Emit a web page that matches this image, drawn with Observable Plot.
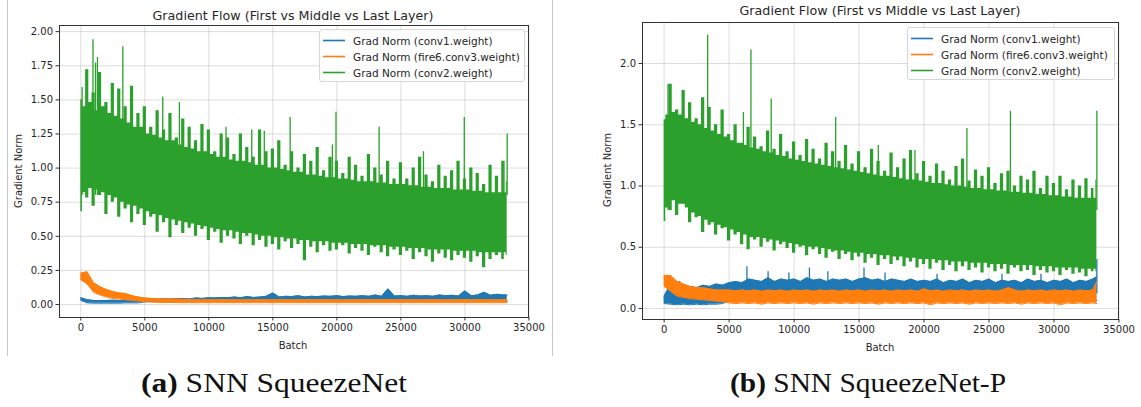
<!DOCTYPE html>
<html>
<head>
<meta charset="utf-8">
<script src="https://cdn.jsdelivr.net/npm/d3@7"></script>
<script src="https://cdn.jsdelivr.net/npm/@observablehq/plot@0.6"></script>
<style>
  html, body { margin: 0; padding: 0; background: #fff; }
  #root { position: relative; width: 1141px; height: 407px; overflow: hidden; background: #fff; }
  .panel { position: absolute; top: 0; }
  #overlay { position: absolute; left: 0; top: 0; pointer-events: none; }
</style>
</head>
<body>
<div id="root">
  <div id="panelA" class="panel" style="left:0px"></div>
  <div id="panelB" class="panel" style="left:580px"></div>
  <svg id="overlay" width="1141" height="407"></svg>
</div>
<script>
// ---------------- data ----------------
const seriesNames = ["Grad Norm (conv1.weight)", "Grad Norm (fire6.conv3.weight)", "Grad Norm (conv2.weight)"];
const seriesColors = ["#1f77b4", "#ff7f0e", "#2ca02c"];
const chartTitle = "Gradient Flow (First vs Middle vs Last Layer)";
const xLabel = "Batch";
const yLabel = "Gradient Norm";
const captions = [["(a)", " SNN SqueezeNet"], ["(b)", " SNN SqueezeNet-P"]];

const xTicks = [0, 5000, 10000, 15000, 20000, 25000, 30000, 35000];
const xTickLabels = ["0", "5000", "10000", "15000", "20000", "25000", "30000", "35000"];
const yTicksA = [0, 0.25, 0.5, 0.75, 1.0, 1.25, 1.5, 1.75, 2.0];
const yTickLabelsA = ["0.00", "0.25", "0.50", "0.75", "1.00", "1.25", "1.50", "1.75", "2.00"];
const yTicksB = [0, 0.5, 1.0, 1.5, 2.0];
const yTickLabelsB = ["0.0", "0.5", "1.0", "1.5", "2.0"];

// sampled batches: envelope extremes read every 500 batches
const batch = [0,500,1000,1500,2000,2500,3000,3500,4000,4500,
  5000,5500,6000,6500,7000,7500,8000,8500,9000,9500,
  10000,10500,11000,11500,12000,12500,13000,13500,14000,14500,
  15000,15500,16000,16500,17000,17500,18000,18500,19000,19500,
  20000,20500,21000,21500,22000,22500,23000,23500,24000,24500,
  25000,25500,26000,26500,27000,27500,28000,28500,29000,29500,
  30000,30500,31000,31500,32000,32500,33000,33300];
// in-between batches: dense core of the noise band
const coreBatch = [250,750,1250,1750,2250,2750,3250,3750,4250,4750,
  5250,5750,6250,6750,7250,7750,8250,8750,9250,9750,
  10250,10750,11250,11750,12250,12750,13250,13750,14250,14750,
  15250,15750,16250,16750,17250,17750,18250,18750,19250,19750,
  20250,20750,21250,21750,22250,22750,23250,23750,24250,24750,
  25250,25750,26250,26750,27250,27750,28250,28750,29250,29750,
  30250,30750,31250,31750,32250,32750,33150];

// ---- (a) SNN SqueezeNet ----
const a_conv2_hi = [1.50,1.72,1.55,1.70,1.48,1.62,1.58,1.45,1.60,1.40,
  1.45,1.30,1.42,1.28,1.40,1.22,1.36,1.30,1.20,1.32,
  1.28,1.12,1.25,1.22,1.10,1.25,1.15,1.08,1.28,1.12,
  1.14,1.20,1.02,1.12,1.00,1.10,1.05,1.15,0.98,1.08,
  1.05,0.96,1.08,1.02,0.94,1.10,1.00,0.95,1.05,0.92,
  1.04,0.92,1.00,1.08,0.95,0.90,1.02,0.94,0.98,1.05,
  0.92,1.00,0.96,0.88,1.02,0.94,1.05,0.90];
const a_conv2_lo = [0.68,0.78,0.72,0.80,0.66,0.75,0.64,0.70,0.60,0.66,
  0.58,0.64,0.53,0.60,0.49,0.58,0.52,0.56,0.50,0.55,
  0.47,0.53,0.45,0.50,0.48,0.44,0.50,0.43,0.47,0.42,
  0.44,0.40,0.46,0.41,0.44,0.32,0.42,0.38,0.43,0.39,
  0.40,0.43,0.37,0.41,0.39,0.36,0.42,0.38,0.35,0.40,
  0.36,0.39,0.33,0.38,0.35,0.31,0.37,0.34,0.32,0.36,
  0.34,0.31,0.35,0.27,0.33,0.36,0.33,0.36];
const a_conv2_coreTop = [1.45,1.48,1.42,1.45,1.40,1.38,1.36,1.33,1.30,1.30,
  1.25,1.24,1.22,1.20,1.20,1.17,1.15,1.14,1.12,1.12,
  1.10,1.08,1.08,1.06,1.05,1.05,1.04,1.02,1.02,1.00,
  1.00,0.99,0.98,0.97,0.97,0.95,0.95,0.94,0.93,0.93,
  0.92,0.92,0.91,0.90,0.90,0.90,0.89,0.89,0.88,0.88,
  0.88,0.87,0.87,0.86,0.86,0.85,0.85,0.85,0.84,0.84,
  0.84,0.83,0.83,0.82,0.82,0.82,0.82];
const a_conv2_coreBot = [0.82,0.85,0.84,0.82,0.80,0.78,0.75,0.73,0.72,0.70,
  0.68,0.66,0.65,0.63,0.62,0.61,0.60,0.59,0.58,0.57,
  0.56,0.55,0.54,0.54,0.53,0.52,0.52,0.51,0.50,0.50,
  0.49,0.49,0.48,0.48,0.47,0.47,0.46,0.46,0.46,0.45,
  0.45,0.45,0.44,0.44,0.44,0.43,0.43,0.43,0.42,0.42,
  0.42,0.41,0.41,0.41,0.40,0.40,0.40,0.40,0.39,0.39,
  0.39,0.39,0.38,0.38,0.38,0.38,0.38];
const a_conv2_spikeX = [100,950,1150,1300,3280,6400,7700,11340,13350,14330,16350,19650,19930,23300,26760,29950,33050,33300];
const a_conv2_spikeY = [1.59,1.94,1.77,1.81,1.89,1.52,1.48,1.30,1.28,1.27,1.37,1.17,1.41,1.30,1.12,1.37,1.05,1.25];

const a_fire6_hi = [0.23,0.24,0.16,0.13,0.11,0.095,0.085,0.08,0.065,0.055,
  0.048,0.045,0.042,0.040,0.040,0.038,0.038,0.036,0.037,0.036,
  0.036,0.035,0.037,0.035,0.036,0.034,0.036,0.035,0.037,0.035,
  0.036,0.035,0.036,0.034,0.036,0.035,0.037,0.035,0.036,0.035,
  0.036,0.034,0.036,0.035,0.037,0.035,0.036,0.035,0.036,0.034,
  0.036,0.035,0.037,0.035,0.036,0.035,0.036,0.034,0.036,0.035,
  0.037,0.035,0.036,0.035,0.036,0.034,0.036,0.035];
const a_fire6_lo = [0.18,0.15,0.09,0.07,0.055,0.045,0.04,0.035,0.03,0.025,
  0.02,0.018,0.016,0.015,0.015,0.014,0.013,0.014,0.013,0.014,
  0.013,0.014,0.013,0.014,0.013,0.014,0.013,0.014,0.013,0.014,
  0.013,0.014,0.013,0.014,0.013,0.014,0.013,0.014,0.013,0.014,
  0.013,0.014,0.013,0.014,0.013,0.014,0.013,0.014,0.013,0.014,
  0.013,0.014,0.013,0.014,0.013,0.014,0.013,0.014,0.013,0.014,
  0.013,0.014,0.013,0.014,0.013,0.013,0.014,0.013];
const a_conv1_hi = [0.05,0.035,0.03,0.03,0.03,0.032,0.03,0.032,0.033,0.035,
  0.035,0.04,0.038,0.045,0.04,0.042,0.045,0.04,0.048,0.045,
  0.05,0.048,0.052,0.05,0.055,0.05,0.058,0.052,0.055,0.06,
  0.085,0.055,0.06,0.058,0.065,0.055,0.06,0.058,0.062,0.06,
  0.065,0.058,0.062,0.06,0.065,0.06,0.07,0.06,0.115,0.062,
  0.065,0.06,0.068,0.062,0.065,0.06,0.07,0.065,0.068,0.062,
  0.1,0.065,0.07,0.09,0.068,0.075,0.07,0.07];
const a_conv1_lo = [0.03,0.012,0.01,0.01,0.01,0.01,0.01,0.012,0.012,0.012,
  0.02,0.022,0.02,0.022,0.02,0.022,0.02,0.022,0.02,0.022,
  0.02,0.022,0.02,0.022,0.02,0.022,0.02,0.022,0.02,0.022,
  0.02,0.022,0.02,0.022,0.02,0.022,0.02,0.022,0.02,0.022,
  0.02,0.022,0.02,0.022,0.02,0.022,0.02,0.022,0.02,0.022,
  0.02,0.022,0.02,0.022,0.02,0.022,0.02,0.022,0.02,0.022,
  0.02,0.022,0.02,0.022,0.02,0.022,0.02,0.022];

// ---- (b) SNN SqueezeNet-P ----
const b_conv2_hi = [1.54,1.83,1.62,1.78,1.68,1.55,1.72,1.64,1.50,1.62,
  1.42,1.50,1.35,1.48,1.40,1.32,1.45,1.30,1.42,1.28,
  1.36,1.25,1.38,1.30,1.22,1.35,1.28,1.20,1.33,1.18,
  1.28,1.15,1.30,1.20,1.12,1.27,1.15,1.22,1.29,1.10,
  1.20,1.08,1.18,1.12,1.05,1.16,1.22,1.04,1.13,1.08,
  1.15,1.02,1.10,1.12,1.00,1.08,1.05,1.12,0.98,1.08,
  1.02,1.08,0.97,1.05,1.00,1.06,0.98,1.05];
const b_conv2_lo = [0.71,0.80,0.76,0.85,0.70,0.74,0.62,0.68,0.60,0.65,
  0.55,0.60,0.52,0.48,0.56,0.50,0.54,0.47,0.52,0.49,
  0.45,0.50,0.43,0.48,0.44,0.41,0.46,0.40,0.44,0.39,
  0.42,0.37,0.41,0.35,0.40,0.36,0.39,0.34,0.38,0.33,
  0.36,0.32,0.37,0.31,0.35,0.30,0.34,0.31,0.33,0.29,
  0.33,0.30,0.32,0.28,0.33,0.30,0.31,0.27,0.31,0.29,
  0.30,0.27,0.31,0.28,0.29,0.26,0.30,0.30];
const b_conv2_coreTop = [1.58,1.60,1.58,1.55,1.52,1.50,1.47,1.45,1.42,1.40,
  1.37,1.35,1.33,1.31,1.30,1.28,1.27,1.25,1.24,1.22,
  1.21,1.20,1.19,1.18,1.17,1.16,1.15,1.14,1.13,1.12,
  1.11,1.10,1.09,1.08,1.08,1.07,1.06,1.05,1.05,1.04,
  1.03,1.02,1.02,1.01,1.00,1.00,0.99,0.98,0.98,0.97,
  0.97,0.96,0.96,0.95,0.95,0.94,0.94,0.93,0.93,0.92,
  0.92,0.91,0.91,0.90,0.90,0.90,0.90];
const b_conv2_coreBot = [0.82,0.88,0.85,0.82,0.78,0.75,0.72,0.70,0.68,0.66,
  0.64,0.62,0.60,0.58,0.58,0.57,0.56,0.55,0.54,0.53,
  0.52,0.51,0.50,0.50,0.49,0.48,0.47,0.47,0.46,0.45,
  0.45,0.44,0.44,0.43,0.43,0.42,0.42,0.41,0.41,0.40,
  0.40,0.40,0.39,0.39,0.38,0.38,0.38,0.37,0.37,0.37,
  0.36,0.36,0.36,0.35,0.35,0.35,0.35,0.34,0.34,0.34,
  0.33,0.33,0.33,0.33,0.32,0.32,0.32];
const b_conv2_spikeX = [300,3350,6100,6680,8240,13200,16480,19300,23300,26650,33300];
const b_conv2_spikeY = [1.83,2.23,1.60,2.11,1.71,1.56,1.33,1.29,1.47,1.61,1.61];

const b_conv1_hi = [0.10,0.20,0.19,0.17,0.18,0.17,0.19,0.18,0.20,0.19,
  0.21,0.22,0.21,0.24,0.23,0.22,0.25,0.22,0.24,0.23,
  0.24,0.22,0.25,0.23,0.24,0.22,0.24,0.23,0.24,0.22,
  0.24,0.25,0.23,0.24,0.22,0.24,0.23,0.22,0.24,0.22,
  0.23,0.22,0.24,0.21,0.23,0.22,0.24,0.21,0.23,0.22,
  0.24,0.21,0.23,0.22,0.23,0.21,0.24,0.22,0.23,0.21,
  0.23,0.22,0.24,0.21,0.23,0.22,0.24,0.26];
const b_conv1_lo = [0.04,0.035,0.03,0.035,0.03,0.035,0.03,0.035,0.035,0.04,
  0.06,0.065,0.06,0.065,0.06,0.065,0.06,0.065,0.06,0.065,
  0.06,0.065,0.06,0.065,0.06,0.065,0.06,0.065,0.06,0.065,
  0.06,0.065,0.06,0.065,0.06,0.065,0.06,0.065,0.06,0.065,
  0.06,0.065,0.06,0.065,0.06,0.065,0.06,0.065,0.06,0.065,
  0.06,0.065,0.06,0.065,0.06,0.065,0.06,0.065,0.06,0.065,
  0.06,0.065,0.06,0.065,0.06,0.065,0.06,0.065];
const b_conv1_spikeX = [300,1200,6370,8000,9600,11180,12600,15380,17000,21000,26000,29000,33300];
const b_conv1_spikeY = [0.22,0.22,0.34,0.30,0.29,0.33,0.30,0.33,0.29,0.28,0.28,0.28,0.40];

const b_fire6_hi = [0.27,0.27,0.22,0.20,0.18,0.17,0.17,0.16,0.15,0.15,
  0.15,0.145,0.15,0.145,0.15,0.14,0.15,0.145,0.15,0.14,
  0.15,0.145,0.15,0.14,0.15,0.145,0.15,0.14,0.15,0.145,
  0.15,0.14,0.15,0.145,0.15,0.14,0.15,0.145,0.15,0.14,
  0.16,0.145,0.15,0.14,0.15,0.145,0.15,0.14,0.15,0.145,
  0.15,0.14,0.15,0.17,0.15,0.14,0.15,0.145,0.15,0.14,
  0.15,0.145,0.15,0.14,0.15,0.145,0.15,0.22];
const b_fire6_lo = [0.18,0.14,0.10,0.09,0.08,0.075,0.07,0.065,0.06,0.055,
  0.045,0.04,0.045,0.04,0.045,0.035,0.045,0.04,0.045,0.04,
  0.045,0.04,0.045,0.035,0.045,0.04,0.045,0.04,0.045,0.04,
  0.045,0.04,0.045,0.035,0.045,0.04,0.045,0.04,0.045,0.04,
  0.045,0.03,0.045,0.04,0.045,0.04,0.045,0.035,0.045,0.04,
  0.045,0.04,0.045,0.04,0.045,0.035,0.045,0.04,0.045,0.04,
  0.045,0.03,0.045,0.04,0.045,0.04,0.045,0.04];

// ---------------- drawing ----------------
function bandTable(hi, lo) { return batch.map((x, i) => ({x, hi: hi[i], lo: lo[i]})); }
// extremes at batch[], dense core at coreBatch[], merged in batch order -> jagged noise band
function toothTable(hi, lo, top, bot) {
  const rows = batch.map((x, i) => ({x, hi: hi[i], lo: lo[i]}))
    .concat(coreBatch.map((x, i) => ({x, hi: top[i], lo: bot[i]})));
  return rows.sort((a, b) => a.x - b.x);
}
function spikeTable(xs, ys, base) { return xs.map((x, i) => ({x, y: ys[i], base})); }

function seriesMarks(t, color, spikes, edge, curve) {
  const m = [Plot.areaY(t, {x: "x", y1: "lo", y2: "hi", fill: color, curve: curve || "linear"})];
  if (edge) {
    m.push(Plot.lineY(t, {x: "x", y: "hi", stroke: color, strokeWidth: 1}));
    m.push(Plot.lineY(t, {x: "x", y: "lo", stroke: color, strokeWidth: 1}));
  }
  if (spikes) m.push(Plot.ruleX(spikes, {x: "x", y1: "base", y2: "y", stroke: color, strokeWidth: 1.3}));
  return m;
}

function panel(cfg) {
  return Plot.plot({
    width: cfg.width, height: 340,
    marginLeft: cfg.ml, marginRight: cfg.mr, marginTop: cfg.mt, marginBottom: cfg.mb,
    style: {fontFamily: "DejaVu Sans", fontSize: "10px", color: "#262626", background: "transparent"},
    x: {domain: [-1665, 34965]},
    y: {domain: cfg.ydomain},
    marks: [
      Plot.gridX(xTicks, {stroke: "#b0b0b0", strokeOpacity: 0.55, strokeWidth: 0.8}),
      Plot.gridY(cfg.yticks, {stroke: "#b0b0b0", strokeOpacity: 0.55, strokeWidth: 0.8}),
      ...cfg.marks,
      Plot.frame({stroke: "#333", strokeWidth: 1}),
      Plot.axisX({ticks: xTicks, tickFormat: (d) => xTickLabels[xTicks.indexOf(d)], tickSize: 3.5, tickPadding: 3, label: null, stroke: "#333"}),
      Plot.axisY({ticks: cfg.yticks, tickFormat: (d) => cfg.ylabels[cfg.yticks.indexOf(d)], tickSize: 3.5, tickPadding: 3, label: null, stroke: "#333"})
    ]
  });
}

const plotA = panel({
  width: 560, ml: 59, mr: 32, mt: 25, mb: 23, ydomain: [-0.095, 2.045],
  yticks: yTicksA, ylabels: yTickLabelsA,
  marks: [
    ...seriesMarks(bandTable(a_conv1_hi, a_conv1_lo), seriesColors[0], null, true),
    ...seriesMarks(bandTable(a_fire6_hi, a_fire6_lo), seriesColors[1], null, true),
    ...seriesMarks(toothTable(a_conv2_hi, a_conv2_lo, a_conv2_coreTop, a_conv2_coreBot), seriesColors[2],
      spikeTable(a_conv2_spikeX, a_conv2_spikeY, 0.8), false, "step")
  ]
});
document.getElementById("panelA").appendChild(plotA);

const plotB = panel({
  width: 561, ml: 62, mr: 23, mt: 22, mb: 21, ydomain: [-0.09, 2.335],
  yticks: yTicksB, ylabels: yTickLabelsB,
  marks: [
    ...seriesMarks(bandTable(b_conv1_hi, b_conv1_lo), seriesColors[0], spikeTable(b_conv1_spikeX, b_conv1_spikeY, 0.12), true),
    ...seriesMarks(bandTable(b_fire6_hi, b_fire6_lo), seriesColors[1], null, true),
    ...seriesMarks(toothTable(b_conv2_hi, b_conv2_lo, b_conv2_coreTop, b_conv2_coreBot), seriesColors[2],
      spikeTable(b_conv2_spikeX, b_conv2_spikeY, 0.8), false, "step")
  ]
});
document.getElementById("panelB").appendChild(plotB);

// ---------------- overlay text ----------------
const svg = d3.select("#overlay");
svg.append("line").attr("x1", 7.5).attr("x2", 7.5).attr("y1", 0).attr("y2", 356).attr("stroke", "#c8c8c8");
svg.append("line").attr("x1", 552.5).attr("x2", 552.5).attr("y1", 0).attr("y2", 356).attr("stroke", "#c8c8c8");

function decorate(o) {
  const txt = (x, y, s, size, extra) => {
    const t = svg.append("text").attr("x", x).attr("y", y).attr("text-anchor", "middle")
      .attr("dominant-baseline", "central").attr("font-family", "DejaVu Sans").attr("font-size", size)
      .attr("fill", "#262626").text(s);
    if (extra) extra(t);
    return t;
  };
  txt(o.cx, o.titleY, chartTitle, 12.7);
  txt(o.cx, o.xlabY, xLabel, 10);
  txt(o.ylabX, o.cy, yLabel, 10, t => t.attr("transform", `rotate(-90,${o.ylabX},${o.cy})`));
  // legend
  const g = svg.append("g");
  g.append("rect").attr("x", o.lx + 0.5).attr("y", o.ly + 0.5).attr("width", o.lw).attr("height", 52)
    .attr("rx", 2.5).attr("fill", "#fff").attr("fill-opacity", 0.85).attr("stroke", "#d6d6d6");
  seriesNames.forEach((name, i) => {
    const y = o.ly + 11.5 + i * 16;
    g.append("line").attr("x1", o.lx + 4).attr("x2", o.lx + 26).attr("y1", y).attr("y2", y)
      .attr("stroke", seriesColors[i]).attr("stroke-width", 1.6);
    g.append("text").attr("x", o.lx + 34).attr("y", y).attr("dominant-baseline", "central")
      .attr("font-family", "DejaVu Sans").attr("font-size", 10.5).attr("fill", "#262626").text(name);
  });
  // caption
  const c = svg.append("text").attr("x", o.capX).attr("y", 382).attr("text-anchor", "middle")
    .attr("dominant-baseline", "central").attr("font-family", "Liberation Serif").attr("font-size", 28)
    .attr("fill", "#111").attr("textLength", o.capW).attr("lengthAdjust", "spacingAndGlyphs");
  c.append("tspan").attr("font-weight", "bold").text(o.cap[0]);
  c.append("tspan").text(o.cap[1]);
}
decorate({cx: 293, cy: 171, titleY: 15, xlabY: 345, ylabX: 18, lx: 319, ly: 29, lw: 205, capX: 274, capW: 266, cap: captions[0]});
decorate({cx: 880, cy: 170, titleY: 10, xlabY: 347, ylabX: 607, lx: 907, ly: 27, lw: 207, capX: 868, capW: 276, cap: captions[1]});
</script>
</body>
</html>
